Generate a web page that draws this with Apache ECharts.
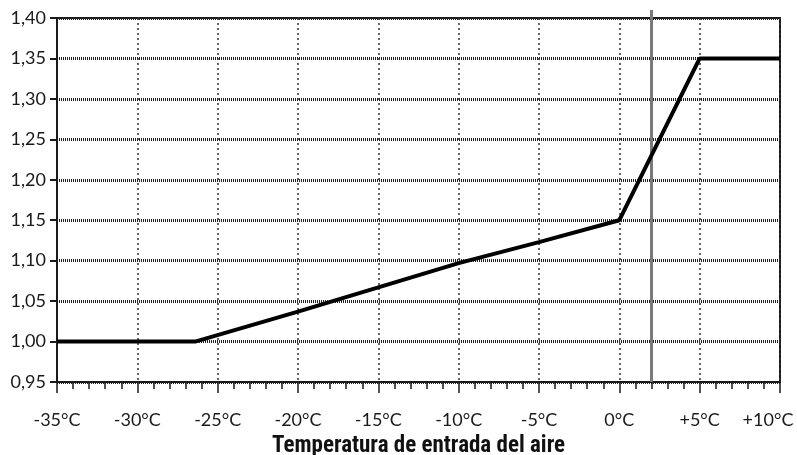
<!DOCTYPE html>
<html><head><meta charset="utf-8">
<script src="https://cdn.jsdelivr.net/npm/echarts@6/dist/echarts.min.js"></script>
<style>html,body{margin:0;padding:0;background:#fff}#c{width:797px;height:455px}</style>
</head><body><div id="c"></div>
<script>
const temps = [-35, -26.4, -20, -15, -10, -5, 0, 5, 10];
const factor = [1.00, 1.00, 1.037, 1.067, 1.097, 1.123, 1.15, 1.35, 1.35];
const markerTemp = 2;
const xTitle = 'Temperatura de entrada del aire';
const FONT = 'Lato, "Open Sans", sans-serif';
const TFONT = '"Roboto Condensed", "Liberation Sans Narrow", "Liberation Sans", sans-serif';

const chart = echarts.init(document.getElementById('c'), null, {renderer: 'canvas'});
const fmtX = v => {
  const s = (v > 0 ? '+' : '') + v + '°C';
  return v === 10 ? '{r|' + s + '}' : s;
};
const fmtY = v => v.toFixed(2).replace('.', ',');
chart.setOption({
  animation: false,
  backgroundColor: '#fff',
  grid: [
    {left: 57, right: 17, top: 18, bottom: 73, show: true, borderColor: '#1a1a1a', borderWidth: 2, backgroundColor: 'transparent', outerBoundsMode: 'none', containLabel: false},
    {left: 57, right: 17, top: 10, bottom: 73, outerBoundsMode: 'none', containLabel: false}
  ],
  xAxis: [{
    type: 'value', gridIndex: 0, min: -35, max: 10, interval: 5,
    axisLine: {show: true, onZero: false, lineStyle: {color: '#1a1a1a', width: 2}},
    axisTick: {show: true, inside: false, length: 11, lineStyle: {color: '#1a1a1a', width: 1.5}},
    minorTick: {show: true, splitNumber: 5, length: 7, lineStyle: {color: '#1a1a1a', width: 1.5}},
    axisLabel: {margin: 29, color: '#1a1a1a', fontSize: 18, fontFamily: FONT, formatter: fmtX,
      rich: {r: {fontSize: 18, fontFamily: FONT, color: '#1a1a1a', padding: [0, 24, 0, 0]}}},
    splitLine: {show: true, lineStyle: {color: '#333', width: 1.5, type: [2, 3]}},
    name: xTitle, nameLocation: 'middle', nameGap: 53,
    nameTextStyle: {fontSize: 23, fontWeight: 'bold', color: '#111', fontFamily: TFONT}
  }, {
    type: 'value', gridIndex: 1, min: -35, max: 10, show: false
  }],
  yAxis: [{
    type: 'value', gridIndex: 0, min: 0.95, max: 1.40, interval: 0.05,
    axisLine: {show: true, onZero: false, lineStyle: {color: '#1a1a1a', width: 2}},
    axisTick: {show: true, length: 7, lineStyle: {color: '#1a1a1a', width: 2}},
    axisLabel: {margin: 11, color: '#1a1a1a', fontSize: 18, fontFamily: FONT, formatter: fmtY},
    splitLine: {show: true, lineStyle: {color: '#222', width: 3, type: [1, 1]}}
  }, {
    type: 'value', gridIndex: 1, min: 0, max: 1, show: false
  }],
  series: [{
    type: 'line', xAxisIndex: 1, yAxisIndex: 1, data: [], silent: true,
    markLine: {
      symbol: 'none', silent: true, label: {show: false},
      lineStyle: {color: '#7a7a7a', width: 3, type: 'solid'},
      data: [{xAxis: markerTemp}]
    }
  }, {
    type: 'line', xAxisIndex: 0, yAxisIndex: 0,
    data: temps.map((t, i) => [t, factor[i]]),
    symbol: 'none', lineStyle: {color: '#000', width: 4}, z: 5
  }]
});
</script></body></html>
